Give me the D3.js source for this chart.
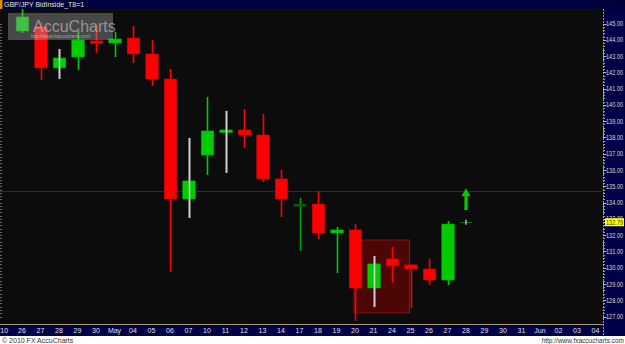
<!DOCTYPE html>
<html><head><meta charset="utf-8">
<script src="https://cdn.jsdelivr.net/npm/d3@7"></script>
<style>
html,body{margin:0;padding:0;background:#fff;}
svg{display:block;font-family:"Liberation Sans",Arial,sans-serif;}
</style></head>
<body>
<svg id="c" width="625" height="344"></svg>
<script>
// ---- data ----
const slotDates = ["2010-04-23","2010-04-26","2010-04-27","2010-04-28","2010-04-29","2010-04-30","2010-05-03","2010-05-04","2010-05-05","2010-05-06","2010-05-07","2010-05-10","2010-05-11","2010-05-12","2010-05-13","2010-05-14","2010-05-17","2010-05-18","2010-05-19","2010-05-20","2010-05-21","2010-05-24","2010-05-25","2010-05-26","2010-05-27","2010-05-28","2010-05-29","2010-05-30","2010-05-31","2010-06-01","2010-06-02","2010-06-03","2010-06-04"];
const slotLabels = ["'10","26","27","28","29","30","May","04","05","06","07","10","11","12","13","14","17","18","19","20","21","24","25","26","27","28","29","30","31","Jun","02","03","04"];

const candleDates = ["2010-04-26","2010-04-27","2010-04-28","2010-04-29","2010-04-30","2010-05-03","2010-05-04","2010-05-05","2010-05-06","2010-05-07","2010-05-10","2010-05-11","2010-05-12","2010-05-13","2010-05-14","2010-05-17","2010-05-18","2010-05-19","2010-05-20","2010-05-21","2010-05-24","2010-05-25","2010-05-26","2010-05-27"];
const openP  = [144.54,144.79,142.27,142.94,143.93,143.80,144.11,143.13,141.59,134.22,136.92,138.44,138.46,138.15,135.45,133.91,133.91,132.13,132.32,128.75,130.54,130.17,129.92,129.24];
const highP  = [145.89,145.09,143.43,144.54,144.91,144.48,144.85,143.99,142.21,137.97,140.49,139.63,139.75,139.44,136.00,134.28,134.71,132.50,132.68,130.72,131.27,130.20,130.54,132.87];
const lowP   = [144.42,141.53,141.59,142.14,143.19,142.94,142.57,141.16,129.74,133.05,135.69,135.82,137.35,135.26,133.11,131.03,131.76,129.67,126.73,127.59,129.06,127.53,128.94,128.94];
const closeP = [145.40,142.27,142.88,143.99,143.77,144.05,143.13,141.59,134.22,135.33,138.40,138.46,138.15,135.45,134.22,133.91,132.13,132.32,128.75,130.23,130.11,129.92,129.24,132.68];
const signalWick = ["2010-04-28","2010-05-07","2010-05-11","2010-05-21"]; // inside-bar signal days
const dimDoji = ["2010-05-17"];

const priceTicks = [145,144,143,142,141,140,139,138,137,136,135,134,133,132,131,130,129,128,127];
const lastPrice = 132.79;
const lastDate = "2010-05-28";
const refLevel = 134.71;
const zoneDates = ["2010-05-20","2010-05-25"];
const zonePrices = [131.70,127.22];
const arrowPrices = [134.88,133.55];

// ---- layout ----
const W = 625, H = 344;
const plot = {l:0, r:603, t:9, b:324};
const svg = d3.select("#c");

const x = d3.scalePoint().domain(slotDates).range([3.5, 595.5]);
const y = d3.scaleLinear().domain([127,145]).range([316.5, 23.5]);

// backgrounds
svg.append("rect").attr("x",0).attr("y",0).attr("width",W).attr("height",H).attr("fill","#ffffff");
svg.append("rect").attr("x",plot.l).attr("y",plot.t).attr("width",plot.r-plot.l).attr("height",plot.b-plot.t).attr("fill","#0c0c0c");
// title bar
svg.append("rect").attr("x",0).attr("y",0).attr("width",W).attr("height",9).attr("fill","#00003c");
svg.append("rect").attr("x",0).attr("y",0).attr("width",2.5).attr("height",9).attr("fill","#e08a00");
svg.append("text").attr("x",4).attr("y",7.2).attr("font-size",7).attr("fill","#e8e8c8").text("GBP/JPY BidInside_T8=1");
// right axis panel
svg.append("rect").attr("x",plot.r).attr("y",9).attr("width",W-plot.r).attr("height",plot.b-9).attr("fill","#000048");
// bottom band
svg.append("rect").attr("x",0).attr("y",plot.b).attr("width",W).attr("height",12).attr("fill","#000048");
svg.append("line").attr("x1",0).attr("x2",plot.r).attr("y1",plot.b+0.5).attr("y2",plot.b+0.5).attr("stroke","#a89a6a").attr("stroke-width",1.2);
svg.append("line").attr("x1",plot.r+0.5).attr("x2",plot.r+0.5).attr("y1",9).attr("y2",plot.b+12).attr("stroke","#a89a6a").attr("stroke-width",1).attr("stroke-dasharray","2,1");

const gPlot = svg.append("g");
gPlot.append("clipPath").attr("id","pc").append("rect").attr("x",plot.l).attr("y",plot.t).attr("width",plot.r-plot.l).attr("height",plot.b-plot.t);
const g = gPlot.append("g").attr("clip-path","url(#pc)");

// left edge minor ticks
const minor = d3.range(127,145.01,0.2);
g.selectAll(".lt").data(minor).join("line")
  .attr("x1",0).attr("x2",2).attr("y1",d=>Math.round(y(d))+0.5).attr("y2",d=>Math.round(y(d))+0.5)
  .attr("stroke","#6a6a5a").attr("stroke-width",1);

// reference level line
g.append("line").attr("x1",plot.l).attr("x2",plot.r).attr("y1",Math.round(y(refLevel))+0.5).attr("y2",Math.round(y(refLevel))+0.5)
  .attr("stroke","#7a0a0a").attr("stroke-width",1);

// highlighted zone
const zx0 = x(zoneDates[0]) - 1, zx1 = x(zoneDates[1]) - 1;
g.append("rect").attr("x",zx0).attr("y",y(zonePrices[0])).attr("width",zx1-zx0).attr("height",y(zonePrices[1])-y(zonePrices[0]))
  .attr("fill","#4c0606").attr("stroke","#8c1414").attr("stroke-width",1);

// candles
const candles = candleDates.map((d,i)=>({date:d,o:openP[i],h:highP[i],l:lowP[i],c:closeP[i]}));
const bw = 12.5;
const RED = "#ff0000", GREEN = "#00cc00";
const cg = g.selectAll(".cd").data(candles).join("g");
cg.append("line")
  .attr("x1",d=>Math.round(x(d.date))+0.5).attr("x2",d=>Math.round(x(d.date))+0.5)
  .attr("y1",d=>y(d.h)).attr("y2",d=>y(d.l))
  .attr("stroke",d=> signalWick.includes(d.date) ? "#c8c8c8" : (dimDoji.includes(d.date) ? "#00a000" : (d.c>=d.o?GREEN:RED)))
  .attr("stroke-width",1.6);
cg.append("rect")
  .attr("x",d=>x(d.date)-bw/2+0.5).attr("width",bw)
  .attr("y",d=>Math.min(y(d.o),y(d.c)))
  .attr("height",d=>Math.max(2.5,Math.abs(y(d.o)-y(d.c))))
  .attr("fill",d=> dimDoji.includes(d.date) ? "#0a5a0a" : (d.c>=d.o?GREEN:RED))
  .attr("stroke",d=> dimDoji.includes(d.date) ? "none" : (d.c>=d.o?"#00a800":"#c80000"))
  .attr("stroke-width",0.6);
// redraw the signal wicks on top of bodies
cg.filter(d=>signalWick.includes(d.date)).append("line")
  .attr("x1",d=>Math.round(x(d.date))+0.5).attr("x2",d=>Math.round(x(d.date))+0.5)
  .attr("y1",d=>y(d.h)).attr("y2",d=>y(d.l))
  .attr("stroke","#d0d0d0").attr("stroke-width",1.6);

// last-price marker
const lx = x(lastDate);
g.append("line").attr("x1",lx-6).attr("x2",lx+6).attr("y1",Math.round(y(lastPrice))+0.5).attr("y2",Math.round(y(lastPrice))+0.5)
  .attr("stroke","#0a6a0a").attr("stroke-width",1);
g.append("line").attr("x1",lx).attr("x2",lx).attr("y1",y(lastPrice)-2.5).attr("y2",y(lastPrice)+2.5)
  .attr("stroke","#dddddd").attr("stroke-width",1.2);

// up arrow
const ay0 = y(arrowPrices[0]), ay1 = y(arrowPrices[1]);
g.append("path")
  .attr("d",`M${lx},${ay0} L${lx+4.5},${ay0+8} L${lx+1.6},${ay0+8} L${lx+1.6},${ay1} L${lx-1.6},${ay1} L${lx-1.6},${ay0+8} L${lx-4.5},${ay0+8} Z`)
  .attr("fill",GREEN);

// watermark
const wm = g.append("g");
wm.append("rect").attr("x",8).attr("y",13).attr("width",105).attr("height",27).attr("fill","rgba(170,170,170,0.38)");
wm.append("text").attr("x",33).attr("y",31.5).attr("font-size",16).attr("fill","rgba(215,215,215,0.55)").text("AccuCharts");
wm.append("text").attr("x",31).attr("y",38).attr("font-size",4.6).attr("fill","rgba(225,225,225,0.6)").text("http://www.fxaccucharts.com/");

// right price axis
const ax = svg.append("g");
ax.selectAll(".mt").data(minor).join("line")
  .attr("x1",plot.r).attr("x2",plot.r+2).attr("y1",d=>Math.round(y(d))+0.5).attr("y2",d=>Math.round(y(d))+0.5)
  .attr("stroke","#b0a27a").attr("stroke-width",1);
ax.selectAll(".Mt").data(priceTicks).join("line")
  .attr("x1",plot.r).attr("x2",plot.r+3.5).attr("y1",d=>Math.round(y(d))+0.5).attr("y2",d=>Math.round(y(d))+0.5)
  .attr("stroke","#c8bc90").attr("stroke-width",1);
ax.selectAll(".pl").data(priceTicks).join("text")
  .attr("transform",d=>`translate(606,${y(d)+2.6}) scale(0.8,1)`)
  .attr("font-size",7).attr("fill","#dcdcc8")
  .text(d=>d3.format(".2f")(d));
// last price tag
ax.append("rect").attr("x",605).attr("y",y(lastPrice)-4).attr("width",19).attr("height",8).attr("fill","#ffff00");
ax.append("text").attr("transform",`translate(606,${y(lastPrice)+2.6}) scale(0.8,1)`).attr("font-size",7).attr("fill","#404000")
  .text(d3.format(".2f")(lastPrice));

// x axis labels
const xa = svg.append("g");
xa.selectAll("text").data(slotDates).join("text")
  .attr("x",d=>x(d)).attr("y",333).attr("text-anchor","middle").attr("font-size",7).attr("fill","#e0e0e0")
  .text((d,i)=>slotLabels[i]);

// footer
svg.append("text").attr("x",2).attr("y",342.5).attr("font-size",7).attr("fill","#333").text("© 2010 FX AccuCharts");
svg.append("text").attr("x",624).attr("y",342.5).attr("text-anchor","end").attr("font-size",6.5).attr("fill","#333").text("http://www.fxaccucharts.com");
</script>
</body></html>
